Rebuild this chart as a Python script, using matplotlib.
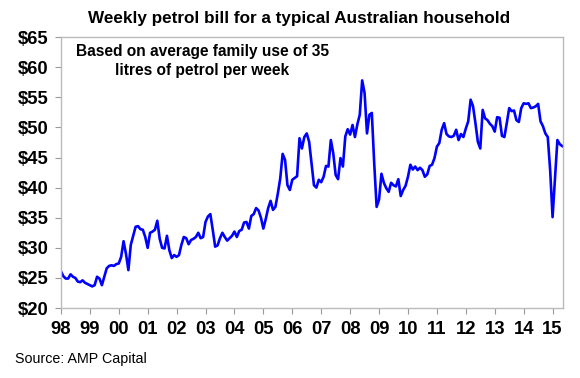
import numpy as np
import matplotlib
matplotlib.use("Agg")
import matplotlib.pyplot as plt

plt.rcParams["font.family"] = ["Liberation Sans", "DejaVu Sans"]

# monthly weekly petrol bill ($), Jan 1998 - May 2015
start_year = 1998
bill = [
    26.1, 25.3, 24.9, 24.9, 25.6, 25.2, 25.0, 24.4, 24.3, 24.6, 24.2, 24.0,  # 98
    23.8, 23.6, 23.8, 25.2, 24.9, 23.8, 25.2, 26.6, 27.0, 27.1, 27.0, 27.3,  # 99
    27.4, 28.5, 31.1, 29.0, 26.3, 30.5, 32.0, 33.5, 33.6, 33.1, 33.0, 31.8,  # 00
    30.0, 32.5, 32.7, 33.0, 34.5, 31.5, 30.0, 29.9, 32.0, 29.6, 28.3, 28.8,  # 01
    28.5, 28.8, 30.5, 31.8, 31.6, 30.6, 31.3, 31.5, 31.8, 32.5, 31.6, 31.8,  # 02
    34.3, 35.2, 35.6, 33.0, 30.2, 30.4, 31.6, 32.5, 31.8, 31.2, 31.6, 32.0,  # 03
    32.7, 31.8, 32.8, 33.0, 34.2, 34.3, 33.2, 35.3, 35.6, 36.6, 36.2, 35.0,  # 04
    33.2, 34.8, 36.6, 37.8, 36.3, 36.8, 39.0, 41.5, 45.6, 44.6, 40.4, 39.6,  # 05
    41.3, 41.6, 41.9, 48.2, 46.5, 48.4, 49.0, 47.6, 44.0, 40.4, 40.0, 41.3,  # 06
    40.9, 41.8, 43.6, 43.5, 47.9, 45.7, 42.1, 41.4, 44.9, 43.5, 48.5, 49.7,  # 07
    48.8, 50.4, 48.4, 50.5, 52.1, 57.8, 55.7, 49.0, 52.1, 52.4, 44.0, 36.8,  # 08
    38.0, 42.3, 40.8, 39.9, 39.3, 40.8, 40.4, 40.2, 41.4, 38.6, 39.6, 40.3,  # 09
    41.8, 43.8, 43.0, 43.5, 42.9, 43.3, 42.9, 41.8, 42.2, 43.6, 43.8, 44.9,  # 10
    46.8, 47.4, 49.6, 50.7, 48.9, 48.5, 48.4, 48.6, 49.6, 47.9, 48.9, 48.4,  # 11
    49.8, 51.0, 54.6, 53.5, 50.7, 47.6, 46.5, 52.9, 51.5, 51.2, 50.6, 50.2,  # 12
    49.3, 51.7, 51.6, 48.6, 48.4, 50.7, 53.2, 52.7, 52.8, 51.2, 50.9, 53.2,  # 13
    54.0, 53.9, 54.0, 53.2, 53.3, 53.5, 53.9, 51.0, 50.2, 49.0, 48.4, 42.9,  # 14
    35.1, 41.5, 47.9, 47.2, 46.9,                                            # 15
]
years = list(range(1998, 2016))
year_labels = [f"{y % 100:02d}" for y in years]
y_ticks = list(range(20, 70, 5))

x = start_year + np.arange(len(bill)) / 12

fig = plt.figure(figsize=(5.8, 3.78), dpi=100)
ax = fig.add_axes([0.105, 0.185, 0.866, 0.717])
ax.plot(x, bill, color="#0000FF", lw=1.9)

ax.set_xlim(1998, 2015 + 4.4 / 12)
ax.set_ylim(20, 65)
ax.set_xticks(years)
ax.set_xticklabels(year_labels)
ax.set_yticks(y_ticks)
ax.set_yticklabels([f"${v}" for v in y_ticks])
ax.tick_params(axis="both", labelsize=13.3, colors="#999999", labelcolor="black",
               length=4, width=0.8)
ax.tick_params(axis="y", pad=5)
ax.tick_params(axis="x", pad=5)
for lab in ax.get_xticklabels() + ax.get_yticklabels():
    lab.set_fontweight("bold")
for s in ax.spines.values():
    s.set_color("#BBBBBB")
    s.set_linewidth(1.0)

fig.text(0.516, 0.950, "Weekly petrol bill for a typical Australian household",
         ha="center", va="center", fontsize=12.3, fontweight="bold")
ax.text(0.282, 0.975, "Based on average family use of 35\nlitres of petrol per week",
        transform=ax.transAxes, ha="center", va="top", fontsize=11.2,
        fontweight="bold", linespacing=1.35)
fig.text(0.026, 0.05, "Source: AMP Capital", ha="left", va="center", fontsize=10.3)

fig.savefig("out.png", dpi=100)
